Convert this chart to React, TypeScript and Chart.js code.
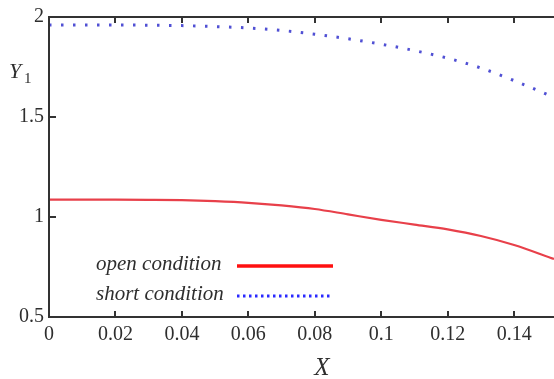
import React, { useEffect, useRef } from "react";
import { Chart, registerables } from "chart.js";

Chart.register(...registerables);

const xValues = [0, 0.01, 0.02, 0.03, 0.04, 0.05, 0.06, 0.07, 0.08, 0.09, 0.1, 0.11, 0.12, 0.13, 0.14, 0.152];
const openCondition = [1.087, 1.087, 1.087, 1.086, 1.084, 1.079, 1.071, 1.058, 1.04, 1.013, 0.986, 0.962, 0.938, 0.905, 0.86, 0.79];
const shortCondition = [1.96, 1.96, 1.96, 1.959, 1.957, 1.952, 1.945, 1.933, 1.914, 1.891, 1.864, 1.832, 1.794, 1.745, 1.682, 1.598];
const xTicks = [0, 0.02, 0.04, 0.06, 0.08, 0.1, 0.12, 0.14];
const yTicks = [0.5, 1, 1.5, 2];
const legendLabels = ["open condition", "short condition"];
const xTitle = "X";
const yTitle = "Y";
const yTitleSub = "1";

const RED = "#e8404a";
const BLUE = "#5050d4";
const AXIS = "#333333";
const TEXT = "#2e2e2e";

export default function App() {
  const ref = useRef<HTMLCanvasElement | null>(null);

  useEffect(() => {
    const canvas = ref.current;
    if (!canvas) return;

    const framePlugin = {
      id: "frame",
      afterDatasetsDraw(chart: any) {
        const { ctx, chartArea } = chart;
        const xs = chart.scales.x;
        const ys = chart.scales.y;
        const { left, right, top, bottom } = chartArea;
        ctx.save();
        ctx.strokeStyle = AXIS;
        ctx.lineWidth = 2;
        ctx.beginPath();
        ctx.moveTo(right + 2, top);
        ctx.lineTo(left, top);
        ctx.lineTo(left, bottom);
        ctx.lineTo(right + 2, bottom);
        ctx.stroke();
        // inward tick marks
        ctx.beginPath();
        for (const v of xTicks) {
          if (v === 0) continue;
          const px = Math.round(xs.getPixelForValue(v));
          ctx.moveTo(px, bottom);
          ctx.lineTo(px, bottom - 6);
          ctx.moveTo(px, top);
          ctx.lineTo(px, top + 6);
        }
        for (const v of yTicks) {
          if (v === 0.5 || v === 2) continue;
          const py = Math.round(ys.getPixelForValue(v));
          ctx.moveTo(left, py);
          ctx.lineTo(left + 7, py);
        }
        ctx.stroke();

        // axis titles
        ctx.fillStyle = TEXT;
        ctx.textBaseline = "alphabetic";
        ctx.textAlign = "center";
        ctx.font = "italic 25px 'Liberation Serif'";
        ctx.fillText(xTitle, 322, 375);
        ctx.textAlign = "left";
        ctx.font = "italic 22px 'Liberation Serif'";
        ctx.fillText(yTitle, 9, 78);
        ctx.font = "15px 'Liberation Serif'";
        ctx.fillText(yTitleSub, 24, 83);

        // legend
        const lx = 96;
        const rows = [
          { y: 270, dash: [] as number[], width: 3.5, lineColor: "#ff1010" },
          { y: 300, dash: [2.5, 3.5], width: 3, lineColor: "#2a2aff" },
        ];
        ctx.font = "italic 21px 'Liberation Serif'";
        rows.forEach((r, i) => {
          ctx.fillStyle = TEXT;
          ctx.fillText(legendLabels[i], lx, r.y);
          ctx.strokeStyle = r.lineColor;
          ctx.lineWidth = r.width;
          ctx.setLineDash(r.dash);
          ctx.beginPath();
          ctx.moveTo(237, r.y - 4);
          ctx.lineTo(333, r.y - 4);
          ctx.stroke();
          ctx.setLineDash([]);
        });
        ctx.restore();
      },
    };

    const chart = new Chart(canvas, {
      type: "line",
      data: {
        datasets: [
          {
            label: legendLabels[0],
            data: xValues.map((x, i) => ({ x, y: openCondition[i] })),
            borderColor: RED,
            borderWidth: 2.2,
            pointRadius: 0,
            cubicInterpolationMode: "monotone",
            fill: false,
          },
          {
            label: legendLabels[1],
            data: xValues.map((x, i) => ({ x, y: shortCondition[i] })),
            borderColor: BLUE,
            borderWidth: 3,
            borderDash: [2.5, 9.5],
            pointRadius: 0,
            cubicInterpolationMode: "monotone",
            fill: false,
          },
        ],
      },
      options: {
        responsive: false,
        animation: false,
        layout: { padding: { top: 16, right: 0, left: 0, bottom: 0 } },
        plugins: {
          legend: { display: false },
          tooltip: { enabled: false },
        },
        scales: {
          x: {
            type: "linear",
            min: 0,
            max: 0.152,
            grid: { display: false, drawTicks: false },
            border: { display: false },
            afterBuildTicks: (scale: any) => {
              scale.ticks = xTicks.map((v) => ({ value: v }));
            },
            afterFit: (scale: any) => {
              scale.height = 62;
            },
            ticks: {
              autoSkip: false,
              maxRotation: 0,
              padding: 6,
              color: TEXT,
              font: { family: "'Liberation Serif'", size: 20 },
              callback: (v: any) => String(v),
            },
          },
          y: {
            type: "linear",
            min: 0.5,
            max: 2,
            grid: { display: false, drawTicks: false },
            border: { display: false },
            afterBuildTicks: (scale: any) => {
              scale.ticks = yTicks.map((v) => ({ value: v }));
            },
            afterFit: (scale: any) => {
              scale.width = 49;
            },
            ticks: {
              autoSkip: false,
              padding: 5,
              color: TEXT,
              font: { family: "'Liberation Serif'", size: 20 },
              callback: (v: any) => String(v),
            },
          },
        },
      },
      plugins: [framePlugin],
    } as any);

    return () => chart.destroy();
  }, []);

  return (
    <div style={{ position: "fixed", left: 0, top: 0, width: 554, height: 379, background: "#fff" }}>
      <canvas ref={ref} width={554} height={379} style={{ display: "block", width: 554, height: 379 }} />
    </div>
  );
}
